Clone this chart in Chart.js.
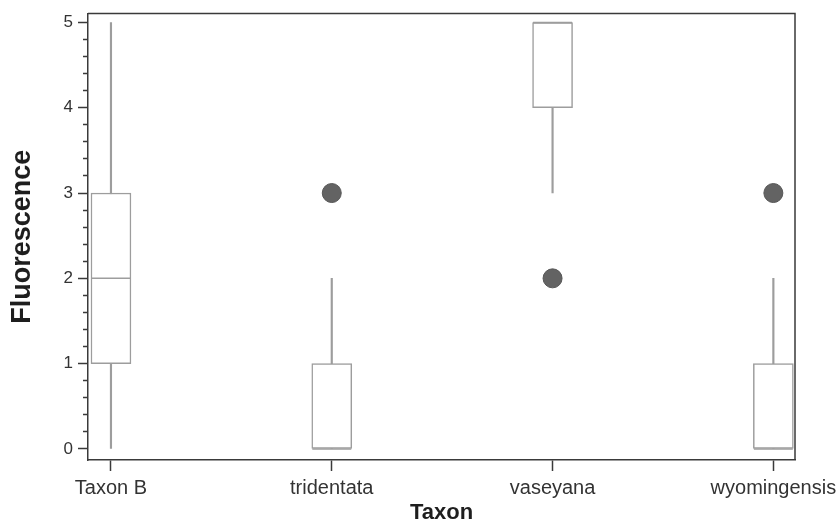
<!DOCTYPE html>
<html>
<head>
<meta charset="utf-8">
<script src="https://cdn.jsdelivr.net/npm/chart.js@4.4.0/dist/chart.umd.min.js"></script>
<style>
  html, body { margin: 0; padding: 0; background: #ffffff; }
  canvas { display: block; }
</style>
</head>
<body>
<canvas id="chart" width="838" height="524"></canvas>
<script>
// Fluorescence score by taxon: box plot summaries
const taxa        = ['Taxon B', 'tridentata', 'vaseyana', 'wyomingensis'];
const whiskerLow  = [0, 0, 3, 0];
const quartile1   = [1, 0, 4, 0];
const medians     = [2, 0, 5, 0];
const quartile3   = [3, 1, 5, 1];
const whiskerHigh = [5, 2, 5, 2];
// outliers: taxon index and value
const outlierTaxon = [1, 2, 3];
const outlierValue = [3, 2, 3];
const yTickValues  = [0, 1, 2, 3, 4, 5];

const FONT = "'Liberation Sans', Arial, Helvetica, sans-serif";
const BOX_GRAY = '#9d9d9d';
const AXIS_GRAY = '#3a3a3a';

// minor ticks every 0.2 between the labelled integers
const yMinorStep = 0.2;

// thin frame on the top and right of the plotting area
const framePlugin = {
  id: 'frame',
  afterDraw(chart) {
    const { ctx, chartArea: a } = chart;
    ctx.save();
    ctx.strokeStyle = AXIS_GRAY;
    ctx.lineWidth = 1.5;
    ctx.beginPath();
    ctx.moveTo(a.left, a.top);
    ctx.lineTo(a.right, a.top);
    ctx.lineTo(a.right, a.bottom);
    ctx.stroke();
    ctx.restore();
  }
};

new Chart(document.getElementById('chart'), {
  type: 'bar',
  data: {
    datasets: [
      {
        // whiskers: full min..max span, the box covers the middle part
        label: 'whisker',
        data: taxa.map((t, i) => ({ x: i, y: [whiskerLow[i], whiskerHigh[i]] })),
        backgroundColor: BOX_GRAY,
        borderWidth: 0,
        barThickness: 1.5,
        grouped: false,
        order: 3
      },
      {
        label: 'box',
        data: taxa.map((t, i) => ({ x: i, y: [quartile1[i], quartile3[i]] })),
        backgroundColor: '#ffffff',
        borderColor: BOX_GRAY,
        borderWidth: 1.5,
        borderSkipped: false,
        barThickness: 40,
        grouped: false,
        order: 2
      },
      {
        type: 'scatter',
        label: 'median',
        data: taxa.map((t, i) => ({ x: i, y: medians[i] })),
        pointStyle: 'line',
        pointRadius: 19.5,
        borderColor: BOX_GRAY,
        borderWidth: 1.5,
        order: 1
      },
      {
        type: 'scatter',
        label: 'outlier',
        data: outlierTaxon.map((t, k) => ({ x: t, y: outlierValue[k] })),
        pointStyle: 'circle',
        pointRadius: 9.5,
        backgroundColor: '#636363',
        borderColor: '#575757',
        borderWidth: 1,
        order: 0
      }
    ]
  },
  options: {
    responsive: false,
    animation: false,
    events: [],
    layout: { autoPadding: false, padding: { left: 0, right: 43, top: 13.5, bottom: 0 } },
    plugins: { legend: { display: false }, tooltip: { enabled: false } },
    scales: {
      x: {
        type: 'linear',
        min: -0.104,
        max: 3.098,
        offset: false,
        afterBuildTicks: s => { s.ticks = taxa.map((t, i) => ({ value: i })); },
        afterFit: s => { s.height = 64; s.paddingLeft = 0; s.paddingRight = 0; },
        ticks: {
          autoSkip: false,
          maxRotation: 0,
          callback: v => taxa[v],
          font: { family: FONT, size: 20 },
          color: '#333333',
          padding: 5
        },
        grid: {
          drawOnChartArea: false,
          offset: false,
          tickLength: 11,
          tickColor: AXIS_GRAY,
          tickWidth: 1.5
        },
        border: { color: AXIS_GRAY, width: 1.5 },
        title: {
          display: true,
          text: 'Taxon',
          font: { family: FONT, size: 22, weight: 'bold', lineHeight: 1 },
          color: '#1e1e1e',
          padding: { top: 0, bottom: 0 }
        }
      },
      y: {
        type: 'linear',
        min: -0.13,
        max: 5.105,
        afterBuildTicks: s => {
          const ticks = [];
          const n = Math.round((yTickValues[yTickValues.length - 1] - yTickValues[0]) / yMinorStep);
          for (let i = 0; i <= n; i++) ticks.push({ value: Math.round((yTickValues[0] + i * yMinorStep) * 10) / 10 });
          s.ticks = ticks;
        },
        afterFit: s => { s.width = 88; s.paddingTop = 0; s.paddingBottom = 0; },
        ticks: {
          autoSkip: false,
          callback: v => (yTickValues.includes(v) ? String(v) : ''),
          font: { family: FONT, size: 17 },
          color: '#333333',
          padding: 5
        },
        grid: {
          drawOnChartArea: false,
          tickLength: 10,
          tickColor: AXIS_GRAY,
          tickWidth: 1.5,
          // minor ticks: only the half next to the axis line
          tickBorderDash: c => (yTickValues.includes(c.tick.value) ? [] : [0, 5, 5, 100])
        },
        border: { color: AXIS_GRAY, width: 1.5 },
        title: {
          display: true,
          text: 'Fluorescence',
          font: { family: FONT, size: 27, weight: 'bold', lineHeight: 1 },
          color: '#1e1e1e',
          padding: { top: 9, bottom: 0 }
        }
      }
    }
  },
  plugins: [framePlugin]
});
</script>
</body>
</html>
